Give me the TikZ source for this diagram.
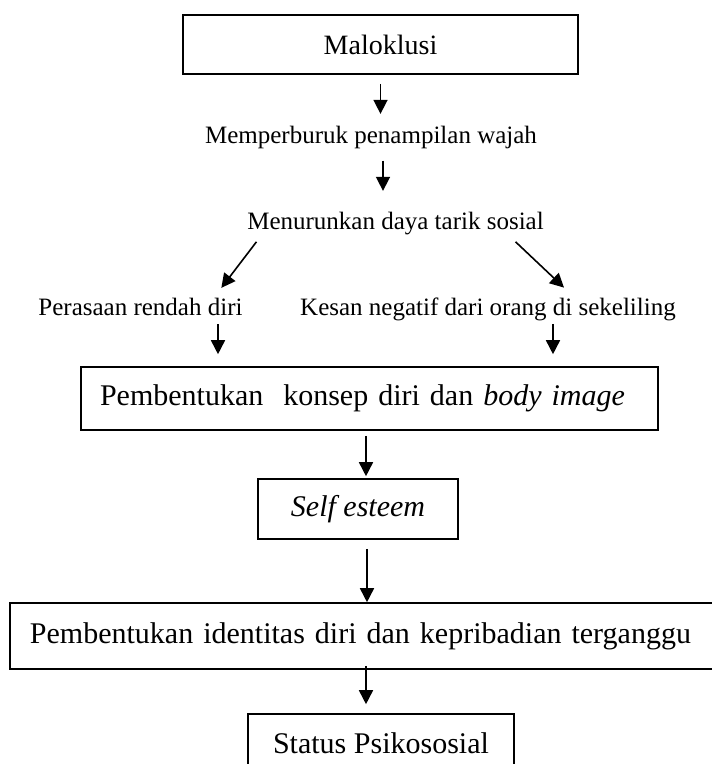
\documentclass[tikz,border=0pt]{standalone}
\usepackage{fontspec}
\setmainfont{Liberation Serif}
\usetikzlibrary{arrows.meta}

\begin{document}
\begin{tikzpicture}[x=1pt,y=-1pt,line width=1.6pt,
    kotak/.style={draw,inner sep=0pt,font=\fontsize{30}{36}\selectfont},
    teks/.style={inner sep=0pt,anchor=base,font=\fontsize{25}{30}\selectfont},
    panah/.style={-{Triangle[length=14pt,width=14pt]}}]
  \useasboundingbox (0,0) rectangle (712,764);
  \draw
    (380.5,44.5) node[kotak,minimum width=395pt,minimum height=59pt,font=\fontsize{28}{34}\selectfont] (0) {Maloklusi}
    (371,143) node[teks] (1) {Memperburuk penampilan wajah}
    (395.5,229) node[teks] (2) {Menurunkan daya tarik sosial}
    (140.5,315) node[teks] (3) {Perasaan rendah diri}
    (488,315) node[teks] (4) {Kesan negatif dari orang di sekeliling}
    (369.5,398.5) node[kotak,minimum width=577pt,minimum height=63pt,text width=539pt,inner xsep=19pt,align=left] (5) {Pembentukan\ \ konsep diri dan \textit{body image}}
    (358,509) node[kotak,minimum width=200pt,minimum height=60pt] (6) {\textit{Self esteem}}
    (366,636) node[kotak,minimum width=712pt,minimum height=66pt,text width=672pt,inner xsep=20pt,align=left] (7) {Pembentukan identitas diri dan kepribadian terganggu}
    (381,743) node[kotak,minimum width=266pt,minimum height=58pt] (8) {Status Psikososial};
  \begin{scope}[panah]
    \draw[shorten <=9pt,shorten >=11pt] (0.south) to (0.south |- 1.north);
    \draw[shorten <=11.6pt,shorten >=20pt] ([xshift=12pt]1.south) to ([xshift=12pt]1.south |- 2.north);
    \draw ([xshift=10pt,yshift=-6.6pt]2.south west) to ([xshift=-22pt,yshift=9pt]3.north east);
    \draw ([xshift=-29pt,yshift=-6.6pt]2.south east) to ([xshift=76pt,yshift=9pt]4.north);
    \draw[shorten <=8pt,shorten >=12pt] ([xshift=77.5pt]3.south) to ([xshift=77.5pt]3.south |- 5.north);
    \draw[shorten <=2.6pt,shorten >=12pt] ([xshift=65pt]4.south) to ([xshift=65pt]4.south |- 5.north);
    \draw[shorten <=5pt,shorten >=2pt] ([xshift=-3.5pt]5.south) to ([xshift=-3.5pt]5.south |- 6.north);
    \draw[shorten <=9pt] ([xshift=9pt]6.south) to ([xshift=9pt]6.south |- 7.north);
    \draw[shorten <=-4pt,shorten >=9pt] (7.south) to (7.south |- 8.north);
  \end{scope}
\end{tikzpicture}
\end{document}
